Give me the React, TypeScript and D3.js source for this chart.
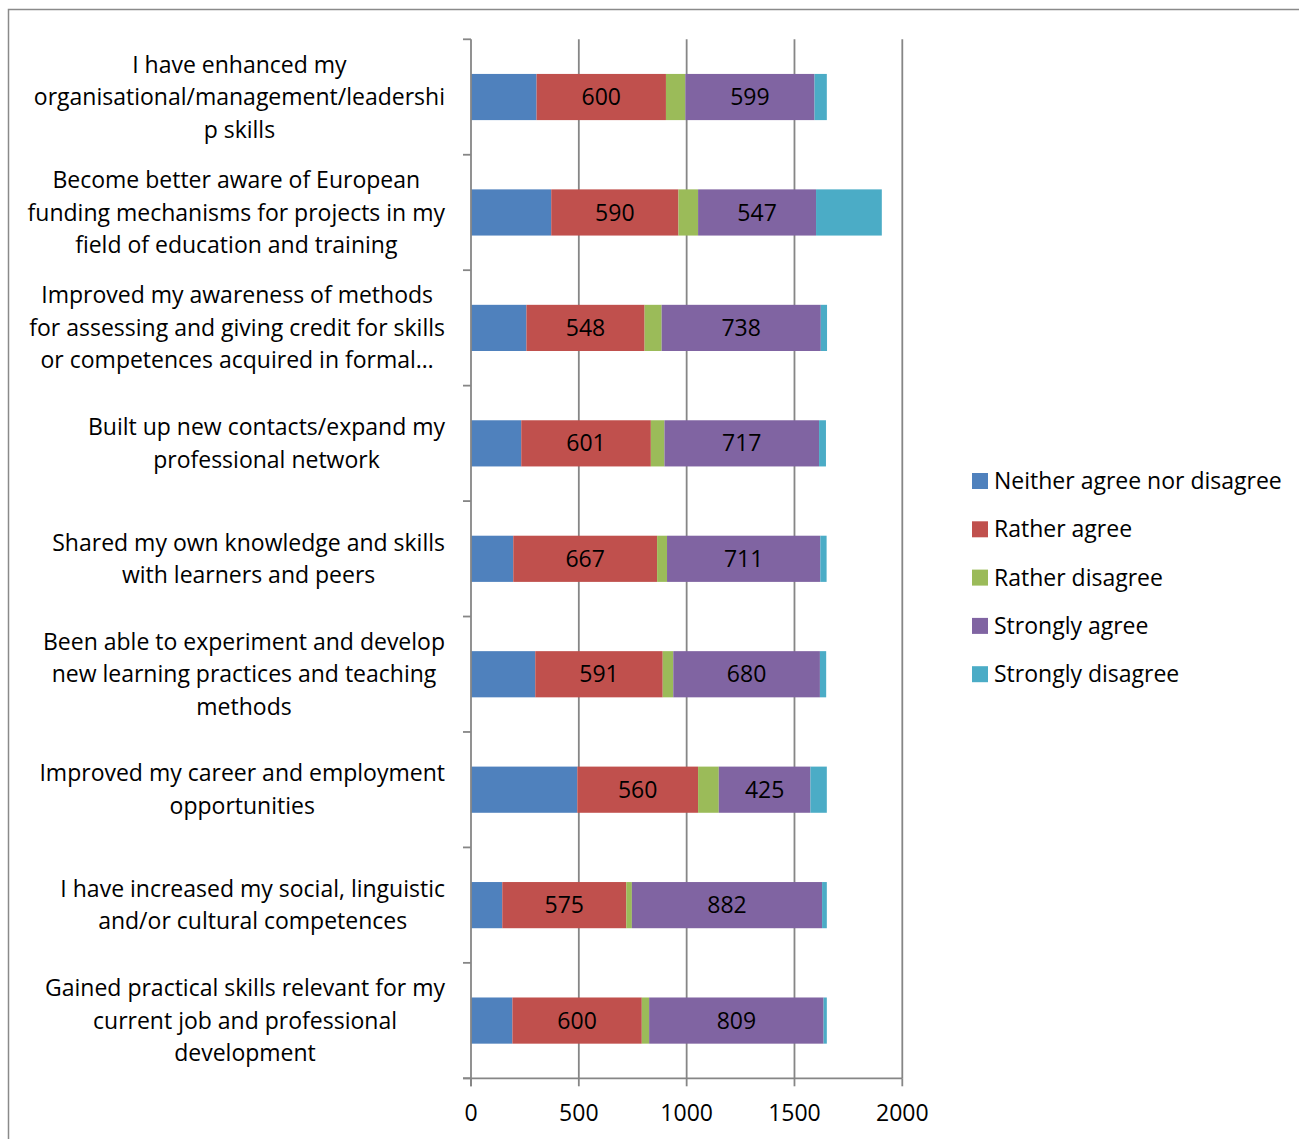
import React, { useEffect, useRef } from "react";
import * as d3 from "d3";

const categories: string[][] = [
  ["I have enhanced my", "organisational/management/leadershi", "p skills"],
  ["Become better aware of European", "funding mechanisms for projects in my", "field of education and training"],
  ["Improved my awareness of methods", "for assessing and giving credit for skills", "or competences acquired in formal…"],
  ["Built up new contacts/expand my", "professional network"],
  ["Shared my own knowledge and skills", "with learners and peers"],
  ["Been able to experiment and develop", "new learning practices and teaching", "methods"],
  ["Improved my career and employment", "opportunities"],
  ["I have increased my social, linguistic", "and/or cultural competences"],
  ["Gained practical skills relevant for my", "current job and professional", "development"],
];

const seriesNames = [
  "Neither agree nor disagree",
  "Rather agree",
  "Rather disagree",
  "Strongly agree",
  "Strongly disagree",
];

const neither = [304, 372, 257, 233, 196, 298, 493, 145, 192];
const ratherAgree = [600, 590, 548, 601, 667, 591, 560, 575, 600];
const ratherDisagree = [90, 91, 79, 63, 46, 49, 96, 26, 34];
const stronglyAgree = [599, 547, 738, 717, 711, 680, 425, 882, 809];
const stronglyDisagree = [57, 305, 29, 32, 29, 29, 76, 22, 15];

const labelledSeries = [false, true, false, true, false];
const colors = ["#4F81BD", "#C0504D", "#9BBB59", "#8064A2", "#4BACC6"];
const xTicks = [0, 500, 1000, 1500, 2000];

const FONT = "'Open Sans', sans-serif";
const FS = 23;

export default function App() {
  const ref = useRef<SVGSVGElement | null>(null);

  useEffect(() => {
    document.body.style.margin = "0";
    const svg = d3.select(ref.current);
    svg.selectAll("*").remove();

    const left = 471, right = 902.3, top = 39.3, bottom = 1078.3;

    svg.append("rect").attr("x", 8.5).attr("y", 9.5).attr("width", 1400).attr("height", 1300)
      .attr("fill", "white").attr("stroke", "#8a8a8a").attr("stroke-width", 1.5);

    const x = d3.scaleLinear().domain([0, 2000]).range([left, right]);
    const y = d3.scaleBand<number>().domain(d3.range(categories.length)).range([top, bottom]).paddingInner(0.6).paddingOuter(0.3);
    const yb = d3.scaleBand<number>().domain(d3.range(categories.length)).range([top, bottom]);

    const rows = categories.map((_, i) => ({
      i, s0: neither[i], s1: ratherAgree[i], s2: ratherDisagree[i], s3: stronglyAgree[i], s4: stronglyDisagree[i],
    }));
    const stack = d3.stack<any>().keys(["s0", "s1", "s2", "s3", "s4"]);
    const stacked = stack(rows);

    // gridlines
    svg.append("g").selectAll("line").data(xTicks.slice(1)).join("line")
      .attr("x1", (d) => x(d)).attr("x2", (d) => x(d)).attr("y1", top).attr("y2", bottom)
      .attr("stroke", "#868686").attr("stroke-width", 1.8);

    // bars
    stacked.forEach((layer, si) => {
      const g = svg.append("g");
      g.selectAll("rect").data(layer).join("rect")
        .attr("x", (d) => x(d[0])).attr("width", (d) => x(d[1]) - x(d[0]))
        .attr("y", (d: any) => y(d.data.i)!).attr("height", y.bandwidth())
        .attr("fill", colors[si]);
      if (labelledSeries[si]) {
        g.selectAll("text").data(layer).join("text")
          .attr("x", (d) => (x(d[0]) + x(d[1])) / 2)
          .attr("y", (d: any) => y(d.data.i)! + y.bandwidth() / 2)
          .attr("dy", "0.35em").attr("text-anchor", "middle")
          .attr("font-family", FONT).attr("font-size", FS).attr("fill", "#000")
          .text((d) => String(d[1] - d[0]));
      }
    });

    // axes
    svg.append("line").attr("x1", left).attr("x2", left).attr("y1", top).attr("y2", bottom + 8)
      .attr("stroke", "#868686").attr("stroke-width", 1.8);
    svg.append("line").attr("x1", left - 8).attr("x2", right).attr("y1", bottom).attr("y2", bottom)
      .attr("stroke", "#868686").attr("stroke-width", 1.8);
    const bounds = d3.range(categories.length + 1).map((k) => top + k * yb.step());
    svg.append("g").selectAll("line").data(bounds).join("line")
      .attr("x1", left - 8).attr("x2", left).attr("y1", (d) => d).attr("y2", (d) => d)
      .attr("stroke", "#868686").attr("stroke-width", 1.8);
    svg.append("g").selectAll("line").data(xTicks).join("line")
      .attr("x1", (d) => x(d)).attr("x2", (d) => x(d)).attr("y1", bottom).attr("y2", bottom + 8)
      .attr("stroke", "#868686").attr("stroke-width", 1.8);
    svg.append("g").selectAll("text").data(xTicks).join("text")
      .attr("x", (d) => x(d)).attr("y", 1113).attr("dy", "0.35em").attr("text-anchor", "middle")
      .attr("font-family", FONT).attr("font-size", FS).text((d) => String(d));

    // category labels
    const lh = 32.5;
    const labelRight = 445;
    categories.forEach((lines, i) => {
      const g = svg.append("g");
      const cy = yb(i)! + yb.bandwidth() / 2;
      const texts = lines.map((ln, k) =>
        g.append("text").attr("font-family", FONT).attr("font-size", FS)
          .attr("y", cy + (k - (lines.length - 1) / 2) * lh).attr("dy", "0.35em")
          .attr("text-anchor", "middle").text(ln)
      );
      const maxW = d3.max(texts, (t) => (t.node() as SVGTextElement).getComputedTextLength()) || 0;
      texts.forEach((t) => t.attr("x", labelRight - maxW / 2));
    });

    // legend
    const lg = svg.append("g");
    seriesNames.forEach((name, i) => {
      const cy = 481 + i * 48.3;
      lg.append("rect").attr("x", 972).attr("y", cy - 8).attr("width", 16).attr("height", 16).attr("fill", colors[i]);
      lg.append("text").attr("x", 994).attr("y", cy).attr("dy", "0.35em")
        .attr("font-family", FONT).attr("font-size", FS).text(name);
    });
  }, []);

  return <svg ref={ref} width={1299} height={1139} style={{ display: "block" }} />;
}
